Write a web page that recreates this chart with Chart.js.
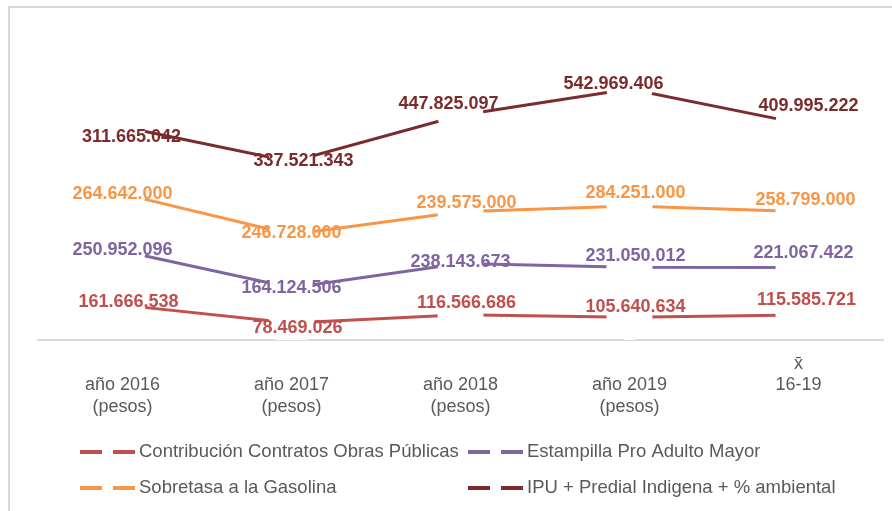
<!DOCTYPE html>
<html>
<head>
<meta charset="utf-8">
<script src="https://cdn.jsdelivr.net/npm/chart.js@4.4.0/dist/chart.umd.min.js"></script>
<style>
  html, body { margin: 0; padding: 0; background: #fff; }
  #wrap { position: relative; width: 892px; height: 511px; }
</style>
</head>
<body>
<div id="wrap">
  <canvas id="myChart" width="892" height="511"></canvas>
</div>
<script>
// categorias del eje x
var categories = [
  ["año 2016", "(pesos)"],
  ["año 2017", "(pesos)"],
  ["año 2018", "(pesos)"],
  ["año 2019", "(pesos)"],
  ["x̄", "16-19"]
];

// recaudo por concepto (pesos)
var contribucion = [161666538, 78469026, 116566686, 105640634, 115585721];
var estampilla = [250952096, 164124506, 238143673, 231050012, 221067422];
var sobretasa = [264642000, 246728000, 239575000, 284251000, 258799000];
var ipu = [311665042, 337521343, 447825097, 542969406, 409995222];

var seriesNames = [
  "Contribución Contratos Obras Públicas",
  "Estampilla Pro Adulto Mayor",
  "Sobretasa a la Gasolina",
  "IPU + Predial Indigena + % ambiental"
];
var seriesColors = ["#C0504D", "#8064A2", "#F79646", "#7A2B2B"];

var FONT = "'Liberation Sans', Arial, sans-serif";

// desplazamiento de cada etiqueta respecto a su punto
var labelShift = [
  [[6, -3], [6, 5], [6, -12], [6, -10], [8, -15]],
  [[0, -1], [0, 0], [0, -1], [6, -11], [5, -14]],
  [[0, 0], [0, -1], [6, -9], [6, -13], [7, -12]],
  [[9, 10], [12, -1], [-12, -11], [-16, -5], [10, -17]]
];

function formatPesos(v) {
  return Math.round(v).toString().replace(/\B(?=(\d{3})+(?!\d))/g, ".");
}

var frame = {
  id: "frame",
  beforeDraw: function (chart) {
    var ctx = chart.ctx;
    ctx.save();
    ctx.strokeStyle = "#d9d9d9";
    ctx.lineWidth = 2;
    ctx.beginPath();
    ctx.moveTo(9, 511);
    ctx.lineTo(9, 7);
    ctx.lineTo(892, 7);
    ctx.stroke();
    ctx.restore();
  }
};

var valueLabels = {
  id: "valueLabels",
  afterDatasetsDraw: function (chart) {
    var ctx = chart.ctx;
    ctx.save();
    ctx.font = "bold 18px " + FONT;
    ctx.textAlign = "center";
    ctx.textBaseline = "middle";
    chart.data.datasets.forEach(function (ds, i) {
      var meta = chart.getDatasetMeta(i);
      ctx.fillStyle = ds.borderColor;
      meta.data.forEach(function (pt, j) {
        var s = labelShift[i][j];
        ctx.fillText(formatPesos(ds.data[j]), pt.x + s[0], pt.y + s[1]);
      });
    });
    ctx.restore();
  }
};

var legendGrid = {
  id: "legendGrid",
  afterDraw: function (chart) {
    var ctx = chart.ctx;
    var spots = [[80, 452], [468, 452], [80, 488], [468, 488]];
    ctx.save();
    ctx.font = "18.5px " + FONT;
    ctx.textAlign = "left";
    ctx.textBaseline = "middle";
    chart.data.datasets.forEach(function (ds, i) {
      var x = spots[i][0], y = spots[i][1];
      ctx.fillStyle = ds.borderColor;
      ctx.fillRect(x, y - 2, 22, 4);
      ctx.fillRect(x + 33, y - 2, 22, 4);
      ctx.fillStyle = "#595959";
      ctx.fillText(ds.label, x + 59, y);
    });
    ctx.restore();
  }
};

var allSeries = [contribucion, estampilla, sobretasa, ipu];

var ctx = document.getElementById("myChart").getContext("2d");
var chart = new Chart(ctx, {
  type: "line",
  data: {
    labels: categories,
    datasets: allSeries.map(function (values, i) {
      return {
        label: seriesNames[i],
        data: values,
        borderColor: seriesColors[i],
        backgroundColor: seriesColors[i],
        borderWidth: 3,
        fill: false,
        tension: 0,
        pointRadius: 23,
        pointHoverRadius: 23,
        pointBackgroundColor: "#ffffff",
        pointBorderWidth: 0
      };
    })
  },
  options: {
    responsive: false,
    animation: false,
    events: [],
    layout: { autoPadding: false, padding: { top: 38, left: 38, right: 9, bottom: 0 } },
    plugins: {
      legend: { display: false },
      tooltip: { enabled: false }
    },
    scales: {
      x: {
        offset: true,
        grid: { display: false, drawTicks: false },
        border: { display: true, color: "#d9d9d9", width: 2 },
        ticks: {
          color: "#595959",
          font: { family: FONT, size: 18, lineHeight: 1.2 },
          padding: 13,
          maxRotation: 0,
          autoSkip: false,
          callback: function (v, i) {
            var c = categories[i];
            return c[1] === "(pesos)" ? [""].concat(c) : c;
          }
        },
        afterFit: function (scale) {
          scale.height = 171;
        }
      },
      y: {
        display: false,
        stacked: true,
        min: 0,
        max: 1400000000
      }
    }
  },
  plugins: [frame, valueLabels, legendGrid]
});
</script>
</body>
</html>
